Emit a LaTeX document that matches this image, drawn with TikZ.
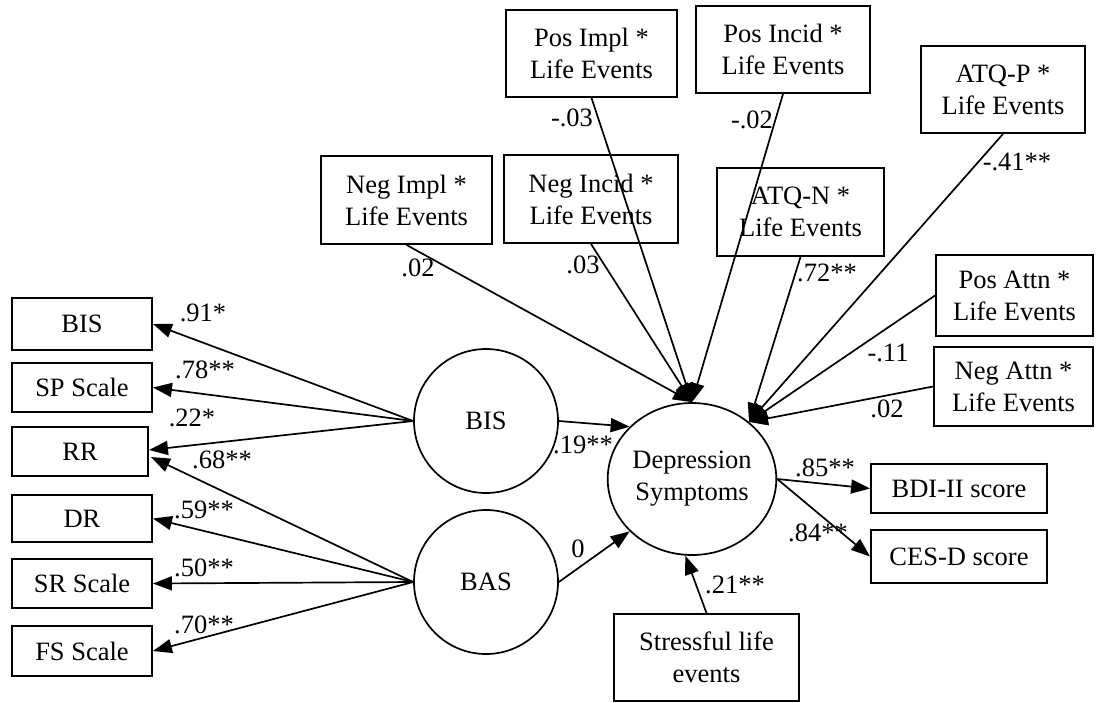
\documentclass[tikz,border=0pt]{standalone}
\usepackage{fontspec}
\setmainfont{Liberation Serif}
\usetikzlibrary{arrows.meta,shapes.geometric}
\begin{document}
\begin{tikzpicture}[x=1pt,y=-1pt,
  every node/.style={font=\fontsize{26.5}{32}\selectfont, inner sep=0pt},
  obs/.style={draw, line width=1.9pt, align=center},
  latent/.style={draw, line width=1.7pt, circle, minimum size=144pt},
  arr/.style={line width=1.7pt, -{Triangle[length=19pt,width=14pt]}},
  lbl/.style={}]
\useasboundingbox (0,0) rectangle (1099,702);

% measured indicators on the left
\node[obs, minimum width=140pt, minimum height=52pt] (bisbox) at (82,324) {BIS};
\node[obs, minimum width=140pt, minimum height=49pt] (sp) at (82,387.5) {SP Scale};
\node[obs, minimum width=136pt, minimum height=49pt] (rr) at (80,451.5) {RR};
\node[obs, minimum width=140pt, minimum height=47pt] (dr) at (82,518.5) {DR};
\node[obs, minimum width=140pt, minimum height=49pt] (sr) at (82,583.5) {SR Scale};
\node[obs, minimum width=140pt, minimum height=50pt] (fs) at (82,651) {FS Scale};

% latent factors
\node[latent] (bis) at (486,421) {BIS};
\node[latent] (bas) at (486,582) {BAS};
\node[draw, line width=1.7pt, ellipse, minimum width=160pt, minimum height=152pt, align=center]
  (dep) at (692,479) {Depression\\Symptoms};

% interaction terms
\node[obs, minimum width=171pt, minimum height=87pt] (posimpl) at (591.5,53.5) {Pos Impl *\\Life Events};
\node[obs, minimum width=174pt, minimum height=87pt] (posincid) at (783,49.5) {Pos Incid *\\Life Events};
\node[obs, minimum width=164pt, minimum height=87pt] (atqp) at (1003,89.5) {ATQ-P *\\Life Events};
\node[obs, minimum width=171pt, minimum height=88pt] (negimpl) at (406.5,200) {Neg Impl *\\Life Events};
\node[obs, minimum width=174pt, minimum height=88pt] (negincid) at (591,199) {Neg Incid *\\Life Events};
\node[obs, minimum width=167pt, minimum height=88pt] (atqn) at (800.5,212) {ATQ-N *\\Life Events};
\node[obs, minimum width=157pt, minimum height=81pt] (posattn) at (1014.5,295.5) {Pos Attn *\\Life Events};
\node[obs, minimum width=159pt, minimum height=79pt] (negattn) at (1013.5,386.5) {Neg Attn *\\Life Events};

% outcomes and stress
\node[obs, minimum width=176pt, minimum height=49pt] (bdi) at (959,488.5) {BDI-II score};
\node[obs, minimum width=176pt, minimum height=53pt] (ces) at (959,556.5) {CES-D score};
\node[obs, minimum width=185pt, minimum height=87pt] (stress) at (706.5,657.5) {Stressful life\\events};

% loadings of BIS
\draw[arr] (bis.west) -- (bisbox.east);
\draw[arr] (bis.west) -- (sp.east);
\draw[arr] (bis.west) -- ([yshift=1.5pt]rr.east);
% loadings of BAS
\draw[arr] (bas.west) -- ([yshift=-5.5pt,xshift=2pt]rr.east);
\draw[arr] (bas.west) -- (dr.east);
\draw[arr] (bas.west) -- (sr.east);
\draw[arr] (bas.west) -- (fs.east);

% structural paths
\draw[arr] (bis.east) -- (dep.140);
\draw[arr] (bas.east) -- (dep.220);
\draw[arr] (stress.north) -- (dep.265);
\draw[arr] (negimpl.south) -- (dep.north);
\draw[arr] (negincid.south) -- (dep.north);
\draw[arr] (posimpl.south) -- (dep.north);
\draw[arr] (posincid.south) -- (dep.north);
\draw[arr] (atqn.south) -- (dep.45);
\draw[arr] (atqp.south) -- (dep.45);
\draw[arr] (posattn.west) -- (dep.45);
\draw[arr] (negattn.west) -- (dep.45);
\draw[arr] (dep.east) -- (bdi.west);
\draw[arr] (dep.east) -- (ces.west);

% coefficients
\node[lbl] (l1) at (203,313) {.91*};
\node[lbl] (l2) at (205,370) {.78**};
\node[lbl] (l3) at (192,418) {.22*};
\node[lbl] (l4) at (222,460) {.68**};
\node[lbl] (l5) at (204,510) {.59**};
\node[lbl] (l6) at (204,568) {.50**};
\node[lbl] (l7) at (204,625) {.70**};
\node[lbl] (l8) at (418,268) {.02};
\node[lbl] (l9) at (583,265) {.03};
\node[lbl] (l10) at (572,118) {-.03};
\node[lbl] (l11) at (752,120) {-.02};
\node[lbl] (l12) at (1017,162) {-.41**};
\node[lbl] (l13) at (827,273) {.72**};
\node[lbl] (l14) at (888,353) {-.11};
\node[lbl] (l15) at (887,409) {.02};
\node[lbl] (l16) at (583,445) {.19**};
\node[lbl] (l17) at (578,549) {0};
\node[lbl] (l18) at (825,468) {.85**};
\node[lbl] (l19) at (818,533) {.84**};
\node[lbl] (l20) at (735,585) {.21**};
\end{tikzpicture}
\end{document}
